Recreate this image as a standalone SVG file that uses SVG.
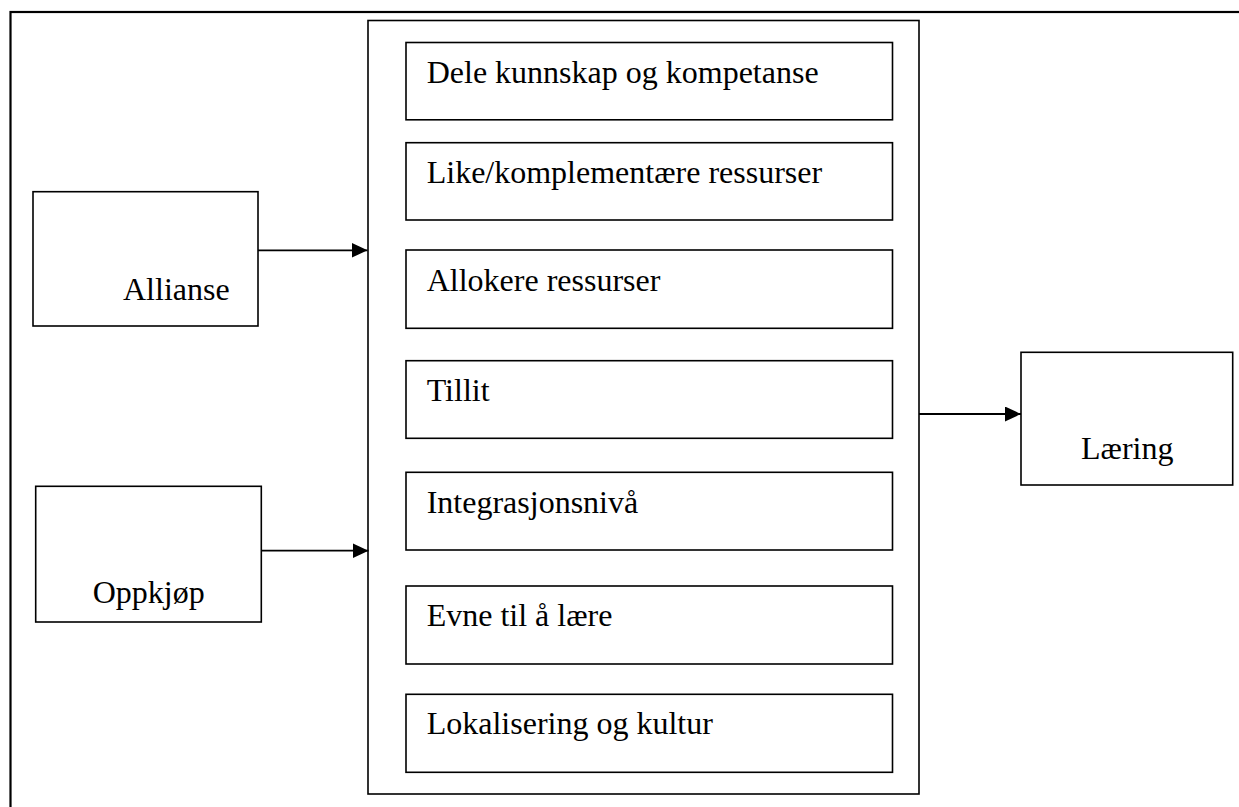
<svg xmlns="http://www.w3.org/2000/svg" width="1239" height="807" viewBox="0 0 1239 807">
<style>
.box{fill:#fff;stroke:#000;stroke-width:1.6}
.frame{fill:none;stroke:#000;stroke-width:2.2}
.t{font-family:"Liberation Serif","Times New Roman",serif;font-size:32px;fill:#000}
.c{stroke:#000;stroke-width:1.8;fill:none}
</style>
<defs>
<marker id="ah" markerUnits="userSpaceOnUse" markerWidth="17" markerHeight="15" refX="16" refY="7.5" orient="auto">
<path d="M0,0 L16,7.5 L0,15 Z" fill="#000"/>
</marker>
</defs>
<rect class="frame" x="10.5" y="12" width="1240" height="810"/>
<g id="container">
<rect class="box" x="368" y="20.5" width="551" height="773.5" stroke-width="2"/>
</g>
<g id="n1"><rect class="box" x="406" y="42.5" width="486.5" height="77.3"/><text class="t" x="426.7" y="83.3">Dele kunnskap og kompetanse</text></g>
<g id="n2"><rect class="box" x="406" y="142.7" width="486.5" height="77.3"/><text class="t" x="426.7" y="183.3">Like/komplementære ressurser</text></g>
<g id="n3"><rect class="box" x="406" y="250" width="486.5" height="78.3"/><text class="t" x="426.7" y="291">Allokere ressurser</text></g>
<g id="n4"><rect class="box" x="406" y="360.7" width="486.5" height="77.6"/><text class="t" x="426.7" y="401">Tillit</text></g>
<g id="n5"><rect class="box" x="406" y="472.3" width="486.5" height="77.7"/><text class="t" x="426.7" y="513.3">Integrasjonsnivå</text></g>
<g id="n6"><rect class="box" x="406" y="586" width="486.5" height="78"/><text class="t" x="426.7" y="626">Evne til å lære</text></g>
<g id="n7"><rect class="box" x="406" y="694.3" width="486.5" height="78"/><text class="t" x="426.7" y="734">Lokalisering og kultur</text></g>
<g id="allianse"><rect class="box" x="33" y="191.7" width="225" height="134.3"/><text class="t" x="123" y="300">Allianse</text></g>
<g id="oppkjop"><rect class="box" x="35.7" y="486.3" width="225.6" height="135.7"/><text class="t" x="92.7" y="603">Oppkjøp</text></g>
<g id="laering"><rect class="box" x="1021" y="352.3" width="211.7" height="132.7"/><text class="t" x="1081" y="459.3">Læring</text></g>
<g id="connectors">
<line class="c" x1="258" y1="250.3" x2="367.5" y2="250.3" marker-end="url(#ah)"/>
<line class="c" x1="261.3" y1="550.7" x2="368.5" y2="550.7" marker-end="url(#ah)"/>
<line class="c" x1="919" y1="414" x2="1021" y2="414" marker-end="url(#ah)"/>
</g>
</svg>
